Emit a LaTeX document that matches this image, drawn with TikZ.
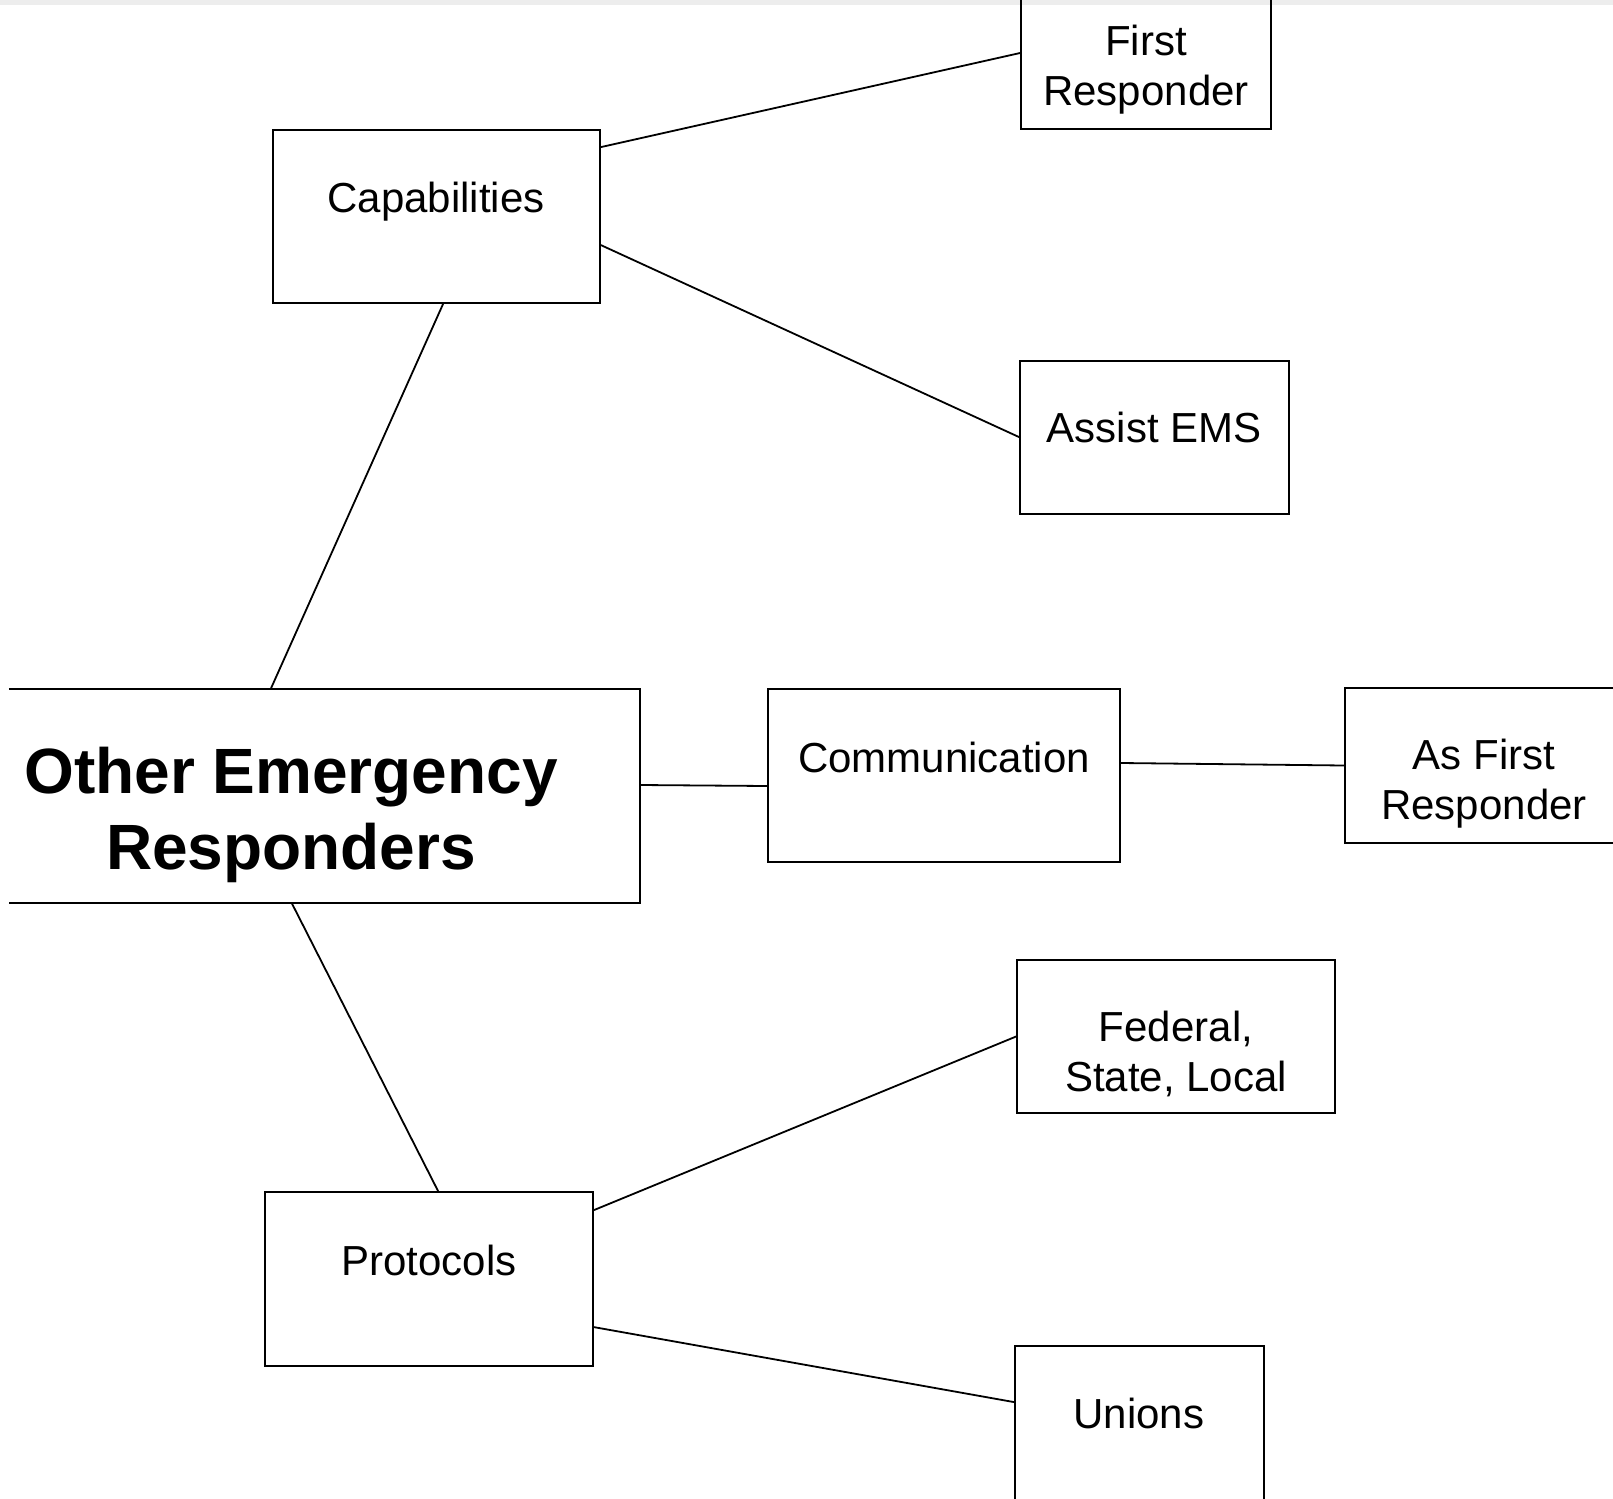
\documentclass[tikz,border=0pt]{standalone}
\usepackage{fontspec}
\setmainfont{Liberation Sans}
\begin{document}
\begin{tikzpicture}[x=1pt,y=-1pt,
  box/.style={draw, line width=1.8pt, inner sep=0pt},
  openbox/.style={line width=1.8pt},
  lbl/.style={font=\fontsize{42}{50}\selectfont, align=center, inner sep=0pt},
  big/.style={font=\bfseries\fontsize{64}{76}\selectfont, align=center, inner sep=0pt},
  link/.style={line width=1.8pt}]
\useasboundingbox (0,0) rectangle (1613,1498);
\fill[white] (0,0) rectangle (1613,1498);
\fill[black!7] (0,0) rectangle (1613,5);
\clip (0,0) rectangle (1613,1498);

% boxes
\node[box, minimum width=250pt, minimum height=149pt] (fr)   at (1146,54.5)  {};
\node[box, minimum width=327pt, minimum height=173pt] (cap)  at (436.5,216.5) {};
\node[box, minimum width=269pt, minimum height=153pt] (ems)  at (1154.5,437.5) {};
\node[inner sep=0pt, minimum width=631pt, minimum height=214pt] (main) at (324.5,796) {};
\draw[openbox] (main.north west) -- (main.north east) -- (main.south east) -- (main.south west);
\node[box, minimum width=352pt, minimum height=173pt] (com)  at (944,775.5)   {};
\node[box, minimum width=295pt, minimum height=155pt] (afr)  at (1492.5,765.5) {};
\node[box, minimum width=318pt, minimum height=153pt] (fed)  at (1176,1036.5) {};
\node[box, minimum width=328pt, minimum height=174pt] (pro)  at (429,1279)    {};
\node[box, minimum width=249pt, minimum height=184pt] (uni)  at (1139.5,1438) {};

% labels
\node[lbl] (frt)   at (1146,70)    {First\\Responder};
\node[lbl, anchor=base] (capt) at (436,212) {Capabilities};
\node[lbl, anchor=base] (emst) at (1154,442) {Assist EMS};
\node[big] (maint) at (291,815) {Other Emergency\\Responders};
\node[lbl, anchor=base] (comt) at (944,772) {Communication};
\node[lbl] (afrt)  at (1484,783.5) {As First\\Responder};
\node[lbl] (fedt)  at (1176,1054)  {Federal,\\State, Local};
\node[lbl, anchor=base] (prot) at (429,1275) {Protocols};
\node[lbl, anchor=base] (unit) at (1139,1428) {Unions};

% connectors
\draw[link] ([yshift=-18pt]cap.north east) -- ([yshift=1.5pt]fr.west);
\draw[link] ([yshift=-116pt]cap.north east) -- ([yshift=-77pt]ems.north west);
\draw[link] ([xshift=262pt]main.north west) -- ([xshift=171pt]cap.south west);
\draw[link] ([yshift=11pt]main.east) -- ([yshift=-10.5pt]com.west);
\draw[link] ([yshift=12.5pt]com.east) -- (afr.west);
\draw[link] ([xshift=283pt]main.south west) -- ([xshift=174pt]pro.north west);
\draw[link] ([yshift=-19pt]pro.north east) -- (fed.west);
\draw[link] ([yshift=-136pt]pro.north east) -- ([yshift=-57pt]uni.north west);
\end{tikzpicture}
\end{document}
